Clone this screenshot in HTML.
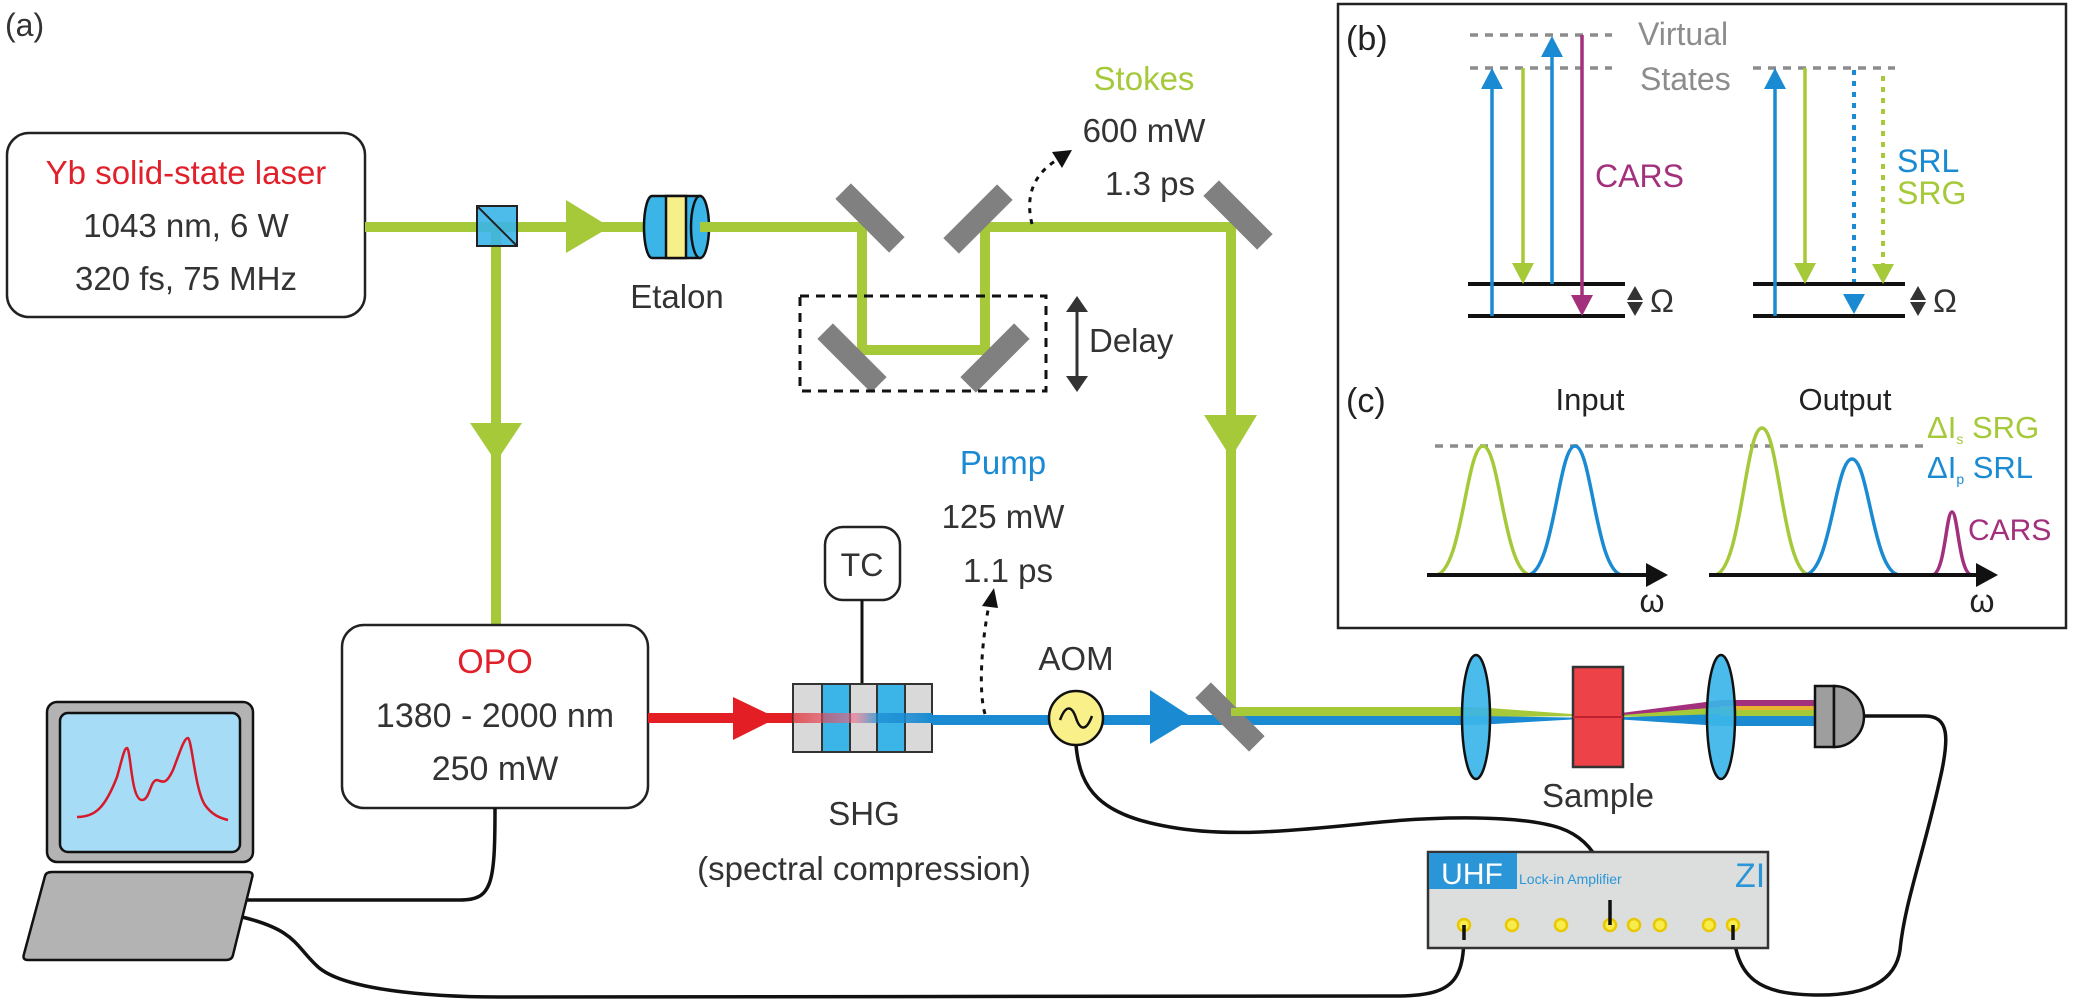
<!DOCTYPE html>
<html><head><meta charset="utf-8"><style>
html,body{margin:0;padding:0;background:#fff;}
svg{display:block;}
text{font-family:"Liberation Sans",sans-serif;}
</style></head><body>
<svg width="2084" height="1006" viewBox="0 0 2084 1006" xmlns="http://www.w3.org/2000/svg">
<defs>
<marker id="ab" markerWidth="8" markerHeight="8" refX="4" refY="4" orient="auto" markerUnits="userSpaceOnUse"></marker>
</defs>
<g font-size="34" fill="#333">
<text x="5" y="36" font-size="32">(a)</text>
</g>

<!-- Laser box -->
<rect x="7" y="133" width="358" height="184" rx="22" fill="#fff" stroke="#222" stroke-width="2.5"/>
<text x="186" y="184" font-size="33" fill="#e0202a" text-anchor="middle">Yb solid-state laser</text>
<text x="186" y="237" font-size="33" fill="#333" text-anchor="middle">1043 nm, 6 W</text>
<text x="186" y="290" font-size="33" fill="#333" text-anchor="middle">320 fs, 75 MHz</text>

<!-- green beams -->
<g stroke="#a5c939" stroke-width="10" fill="none" stroke-linejoin="miter">
<polyline points="365,227 862,227 862,350 985,350 985,227 1231,227 1231,712"/>
<line x1="496" y1="227" x2="496" y2="625"/>
<line x1="1231" y1="712" x2="1476" y2="712"/>
</g>
<!-- green arrows -->
<polygon points="566,200 610,227 566,253" fill="#a5c939"/>
<polygon points="470,423 522,423 496,462" fill="#a5c939"/>
<polygon points="1204,415 1257,415 1231,458" fill="#a5c939"/>

<!-- beamsplitter cube -->
<rect x="477" y="206" width="40" height="40" fill="#3bb5e8" fill-opacity="0.9" stroke="#222" stroke-width="2"/>
<line x1="477" y1="206" x2="517" y2="246" stroke="#222" stroke-width="2"/>

<!-- Etalon -->
<g stroke="#111" stroke-width="2.5">
<path d="M652,196 L700,196 L700,258 L652,258 A8,31 0 0 1 652,196 Z" fill="#3bb5e8"/>
<rect x="666" y="196" width="20" height="62" fill="#f7ef8a"/>
<ellipse cx="700" cy="227" rx="9" ry="31" fill="#3bb5e8"/>
</g>
<line x1="700" y1="227" x2="720" y2="227" stroke="#a5c939" stroke-width="10"/>
<text x="677" y="308" font-size="33" fill="#333" text-anchor="middle">Etalon</text>

<!-- mirrors -->
<g fill="#808080">
<rect x="-38" y="-11" width="76" height="22" transform="translate(870,218) rotate(45)"/>
<rect x="-38" y="-11" width="76" height="22" transform="translate(978,219) rotate(-45)"/>
<rect x="-38" y="-11" width="76" height="22" transform="translate(852,358) rotate(45)"/>
<rect x="-38" y="-11" width="76" height="22" transform="translate(995,358) rotate(-45)"/>
<rect x="-38" y="-11" width="76" height="22" transform="translate(1238,215) rotate(45)"/>
</g>

<!-- delay box -->
<rect x="800" y="296" width="246" height="95" fill="none" stroke="#111" stroke-width="3" stroke-dasharray="9,7"/>
<line x1="1077" y1="310" x2="1077" y2="378" stroke="#333" stroke-width="3"/>
<polygon points="1066,312 1088,312 1077,296" fill="#333"/>
<polygon points="1066,376 1088,376 1077,392" fill="#333"/>
<text x="1089" y="352" font-size="33" fill="#333">Delay</text>

<!-- Stokes label -->
<text x="1144" y="90" font-size="33" fill="#a5c939" text-anchor="middle">Stokes</text>
<text x="1144" y="142" font-size="33" fill="#333" text-anchor="middle">600 mW</text>
<text x="1150" y="195" font-size="33" fill="#333" text-anchor="middle">1.3 ps</text>
<path d="M1032,224 C1026,200 1030,175 1060,158" fill="none" stroke="#111" stroke-width="3" stroke-dasharray="5,6"/>
<polygon points="1072,150 1052,152 1062,168" fill="#111"/>

<!-- OPO -->
<rect x="342" y="625" width="306" height="183" rx="22" fill="#fff" stroke="#222" stroke-width="2.5"/>
<text x="495" y="673" font-size="34" fill="#e0202a" text-anchor="middle">OPO</text>
<text x="495" y="727" font-size="34" fill="#333" text-anchor="middle">1380 - 2000 nm</text>
<text x="495" y="780" font-size="34" fill="#333" text-anchor="middle">250 mW</text>

<!-- red beam -->
<line x1="648" y1="718" x2="800" y2="718" stroke="#e31e24" stroke-width="10"/>
<polygon points="733,697 777,718 733,740" fill="#e31e24"/>

<!-- TC -->
<rect x="825" y="527" width="75" height="73" rx="18" fill="#fff" stroke="#222" stroke-width="2.5"/>
<text x="862" y="576" font-size="32" fill="#333" text-anchor="middle">TC</text>
<line x1="862" y1="600" x2="862" y2="684" stroke="#111" stroke-width="3"/>

<!-- SHG crystal -->
<g stroke="#333" stroke-width="2">
<rect x="793" y="684" width="29" height="68" fill="#d9d9d9"/>
<rect x="822" y="684" width="28" height="68" fill="#3bb5e8"/>
<rect x="850" y="684" width="27" height="68" fill="#d9d9d9"/>
<rect x="877" y="684" width="28" height="68" fill="#3bb5e8"/>
<rect x="905" y="684" width="27" height="68" fill="#d9d9d9"/>
</g>
<defs><linearGradient id="rb" x1="0" x2="1"><stop offset="0" stop-color="#e31e24" stop-opacity="0.7"/><stop offset="0.45" stop-color="#e86b8a" stop-opacity="0.6"/><stop offset="0.6" stop-color="#1a8bd2" stop-opacity="0.7"/><stop offset="1" stop-color="#1a8bd2"/></linearGradient></defs>
<rect x="793" y="713" width="139" height="10" fill="url(#rb)"/>
<text x="864" y="825" font-size="33" fill="#333" text-anchor="middle">SHG</text>
<text x="864" y="880" font-size="33" fill="#333" text-anchor="middle">(spectral compression)</text>

<!-- blue beam -->
<line x1="932" y1="720" x2="1476" y2="720" stroke="#1a8bd2" stroke-width="10"/>
<polygon points="1150,690 1193,718 1150,744" fill="#1a8bd2"/>

<!-- Pump label -->
<text x="1003" y="474" font-size="33" fill="#1a8bd2" text-anchor="middle">Pump</text>
<text x="1003" y="528" font-size="33" fill="#333" text-anchor="middle">125 mW</text>
<text x="1008" y="582" font-size="33" fill="#333" text-anchor="middle">1.1 ps</text>
<path d="M985,714 C978,690 982,640 989,605" fill="none" stroke="#111" stroke-width="3" stroke-dasharray="5,6"/>
<polygon points="994,588 982,606 998,608" fill="#111"/>

<!-- AOM -->
<text x="1076" y="670" font-size="33" fill="#333" text-anchor="middle">AOM</text>
<circle cx="1076" cy="718" r="27" fill="#f9f08a" stroke="#111" stroke-width="2.5"/>
<path d="M1060,720 C1066,704 1072,706 1076,718 C1080,730 1086,732 1092,716" fill="none" stroke="#111" stroke-width="2.5"/>

<!-- bottom mirror -->
<rect x="-38" y="-11" width="76" height="22" transform="translate(1230,717) rotate(45)" fill="#808080"/>
<line x1="1231" y1="712" x2="1476" y2="712" stroke="#a5c939" stroke-width="8"/>

<!-- focusing beams -->
<polygon points="1476,707 1598,716 1476,717" fill="#a5c939"/>
<polygon points="1476,716 1598,718 1476,725" fill="#1a8bd2"/>
<polygon points="1598,716 1721,700 1721,712" fill="#a3307c"/>
<polygon points="1598,717 1721,707 1721,716" fill="#a5c939"/>
<polygon points="1598,718 1721,714 1721,726" fill="#1a8bd2"/>
<rect x="1721" y="700" width="96" height="6" fill="#a3307c"/>
<rect x="1721" y="706" width="96" height="4" fill="#e8b430"/>
<rect x="1721" y="710" width="96" height="6" fill="#a5c939"/>
<rect x="1721" y="716" width="96" height="10" fill="#1a8bd2"/>

<!-- lenses -->
<ellipse cx="1476" cy="717" rx="14" ry="62" fill="#3bb5e8" fill-opacity="0.92" stroke="#111" stroke-width="2.5"/>
<ellipse cx="1721" cy="717" rx="14" ry="62" fill="#3bb5e8" fill-opacity="0.92" stroke="#111" stroke-width="2.5"/>
<!-- sample -->
<rect x="1573" y="667" width="50" height="100" fill="#ee4249" stroke="#333" stroke-width="2.5"/>
<line x1="1573" y1="717" x2="1623" y2="717" stroke="#c02030" stroke-width="2"/>
<text x="1598" y="807" font-size="33" fill="#333" text-anchor="middle">Sample</text>

<!-- detector -->
<rect x="1815" y="686" width="19" height="61" fill="#9e9e9e" stroke="#111" stroke-width="2.5"/>
<path d="M1834,686 A30,30.5 0 0 1 1834,747 Z" fill="#9e9e9e" stroke="#111" stroke-width="2.5"/>

<!-- cables -->
<g fill="none" stroke="#111" stroke-width="3.5">
<path d="M1864,716 L1925,716 C1950,716 1948,740 1942,770 C1925,850 1905,900 1900,950 C1895,985 1860,995 1820,995 C1760,995 1735,980 1733,925"/>
<path d="M1076,745 C1080,790 1100,815 1170,827 C1230,838 1300,830 1371,823 C1440,816 1520,815 1560,828 C1600,842 1610,880 1610,925"/>
<path d="M1464,925 C1465,980 1455,995 1400,996 L500,997 C430,997 340,990 316,965 C295,945 295,930 242,917"/>
<path d="M245,900 L460,900 C492,900 495,885 495,808"/>
</g>

<!-- Lock-in -->
<rect x="1428" y="852" width="340" height="96" fill="#dcdddd" stroke="#333" stroke-width="2.5"/>
<rect x="1429" y="853" width="88" height="36" fill="#2a96d8"/>
<text x="1472" y="884" font-size="30" fill="#fff" text-anchor="middle">UHF</text>
<text x="1519" y="884" font-size="14" fill="#2a96d8">Lock-in Amplifier</text>
<text x="1735" y="887" font-size="34" fill="#2a96d8">ZI</text>
<g fill="#f8ec4c" stroke="#e8c800" stroke-width="2.5">
<circle cx="1464" cy="925" r="6"/><circle cx="1512" cy="925" r="6"/><circle cx="1561" cy="925" r="6"/>
<circle cx="1610" cy="925" r="6"/><circle cx="1634" cy="925" r="6"/><circle cx="1660" cy="925" r="6"/>
<circle cx="1709" cy="925" r="6"/><circle cx="1733" cy="925" r="6"/>
</g>
<g stroke="#111" stroke-width="3.5" fill="none">
<path d="M1610,925 L1610,900"/><path d="M1464,925 L1464,940"/><path d="M1733,925 L1733,940"/>
</g>

<!-- laptop -->
<rect x="47" y="702" width="206" height="160" rx="10" fill="#b3b3b3" stroke="#111" stroke-width="2.5"/>
<rect x="60" y="713" width="180" height="139" rx="8" fill="#a6dcf5" stroke="#111" stroke-width="2.5"/>
<path d="M77,817 C95,817 105,808 117,777 C122,760 124,748 127,748 C131,750 131,800 142,800 C150,800 150,780 157,780 C163,782 166,785 173,770 C180,752 184,738 188,738 C192,740 195,790 205,805 C212,815 220,818 228,820" fill="none" stroke="#d7192a" stroke-width="2.5"/>
<path d="M52,872 L248,872 Q254,872 252,878 L233,955 Q232,960 226,960 L28,960 Q22,960 24,954 L45,876 Q46,872 52,872 Z" fill="#b3b3b3" stroke="#111" stroke-width="2.5"/>

<!-- Panel b/c -->
<rect x="1338" y="4" width="728" height="624" fill="none" stroke="#222" stroke-width="2.5"/>
<text x="1346" y="50" font-size="34" fill="#222">(b)</text>
<g stroke="#8c8c8c" stroke-width="3.5" stroke-dasharray="8,7">
<line x1="1470" y1="35" x2="1612" y2="35"/>
<line x1="1470" y1="68" x2="1612" y2="68"/>
<line x1="1753" y1="68" x2="1895" y2="68"/>
</g>
<text x="1638" y="45" font-size="32" fill="#8c8c8c">Virtual</text>
<text x="1640" y="90" font-size="32" fill="#8c8c8c">States</text>
<g stroke="#111" stroke-width="4">
<line x1="1468" y1="284" x2="1625" y2="284"/><line x1="1468" y1="316" x2="1625" y2="316"/>
<line x1="1753" y1="284" x2="1905" y2="284"/><line x1="1753" y1="316" x2="1905" y2="316"/>
</g>
<!-- Omega arrows -->
<g fill="#333">
<polygon points="1635,286 1643,300 1627,300"/><polygon points="1635,316 1643,302 1627,302"/>
<polygon points="1918,286 1926,300 1910,300"/><polygon points="1918,316 1926,302 1910,302"/>
</g>
<text x="1650" y="312" font-size="32" fill="#333">Ω</text>
<text x="1933" y="312" font-size="32" fill="#333">Ω</text>
<!-- left group -->
<g stroke-width="3.5">
<line x1="1492" y1="316" x2="1492" y2="84" stroke="#1a8bd2"/>
<line x1="1523" y1="68" x2="1523" y2="268" stroke="#a5c939"/>
<line x1="1552" y1="284" x2="1552" y2="52" stroke="#1a8bd2"/>
<line x1="1582" y1="35" x2="1582" y2="300" stroke="#a3307c"/>
</g>
<polygon points="1492,68 1481,89 1503,89" fill="#1a8bd2"/>
<polygon points="1523,284 1512,263 1534,263" fill="#a5c939"/>
<polygon points="1552,36 1541,57 1563,57" fill="#1a8bd2"/>
<polygon points="1582,316 1571,295 1593,295" fill="#a3307c"/>
<text x="1595" y="187" font-size="32" fill="#a3307c">CARS</text>
<!-- right group -->
<line x1="1775" y1="316" x2="1775" y2="84" stroke="#1a8bd2" stroke-width="3.5"/>
<polygon points="1775,68 1764,89 1786,89" fill="#1a8bd2"/>
<line x1="1805" y1="68" x2="1805" y2="268" stroke="#a5c939" stroke-width="3.5"/>
<polygon points="1805,284 1794,263 1816,263" fill="#a5c939"/>
<line x1="1854" y1="70" x2="1854" y2="282" stroke="#1a8bd2" stroke-width="4" stroke-dasharray="5,6"/>
<polygon points="1854,314 1843,294 1865,294" fill="#1a8bd2"/>
<line x1="1883" y1="76" x2="1883" y2="266" stroke="#a5c939" stroke-width="4" stroke-dasharray="5,6"/>
<polygon points="1883,284 1872,264 1894,264" fill="#a5c939"/>
<text x="1897" y="172" font-size="32" fill="#1a8bd2">SRL</text>
<text x="1897" y="204" font-size="32" fill="#a5c939">SRG</text>

<!-- (c) -->
<text x="1346" y="412" font-size="34" fill="#222">(c)</text>
<text x="1590" y="410" font-size="31" fill="#222" text-anchor="middle">Input</text>
<text x="1845" y="410" font-size="31" fill="#222" text-anchor="middle">Output</text>
<line x1="1435" y1="446" x2="1925" y2="446" stroke="#8c8c8c" stroke-width="3.5" stroke-dasharray="8,7"/>
<g fill="none" stroke-width="3.5">
<path d="M1435,575 C1462,575 1466,446 1483,446 C1500,446 1504,575 1531,575" stroke="#a5c939"/>
<path d="M1527,575 C1554,575 1558,446 1575,446 C1592,446 1596,575 1623,575" stroke="#1a8bd2"/>
<path d="M1714,575 C1741,575 1745,428 1762,428 C1779,428 1783,575 1810,575" stroke="#a5c939"/>
<path d="M1804,575 C1831,575 1835,459 1852,459 C1869,459 1873,575 1900,575" stroke="#1a8bd2"/>
<path d="M1932,575 C1945,575 1946,512 1952,512 C1958,512 1959,575 1972,575" stroke="#a3307c"/>
</g>
<g stroke="#111" stroke-width="4">
<line x1="1427" y1="575" x2="1650" y2="575"/>
<line x1="1709" y1="575" x2="1980" y2="575"/>
</g>
<polygon points="1668,575 1646,563 1646,587" fill="#111"/>
<polygon points="1998,575 1976,563 1976,587" fill="#111"/>
<text x="1652" y="612" font-size="32" fill="#222" text-anchor="middle">ω</text>
<text x="1982" y="612" font-size="32" fill="#222" text-anchor="middle">ω</text>
<text x="1927" y="438" font-size="31" fill="#a5c939">ΔI<tspan font-size="14" dy="6">s</tspan><tspan dy="-6"> SRG</tspan></text>
<text x="1927" y="478" font-size="31" fill="#1a8bd2">ΔI<tspan font-size="14" dy="6">p</tspan><tspan dy="-6"> SRL</tspan></text>
<text x="1968" y="540" font-size="30" fill="#a3307c">CARS</text>
</svg>
</body></html>
